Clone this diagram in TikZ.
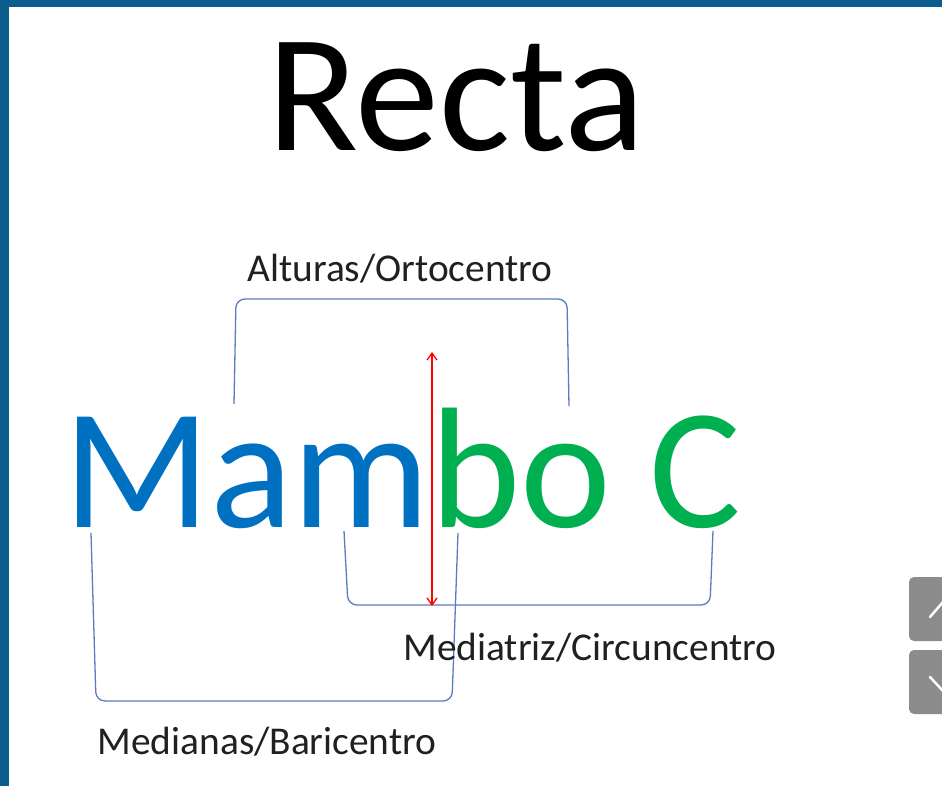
\documentclass[tikz,border=0pt]{standalone}
\usepackage{fontspec}
\setmainfont{Carlito}
\usetikzlibrary{arrows.meta}
\definecolor{frameblue}{HTML}{0B5D8E}
\definecolor{mamblue}{HTML}{0070C0}
\definecolor{bogreen}{HTML}{00B050}
\definecolor{brk}{HTML}{5B7DBF}
\definecolor{btn}{HTML}{8C8C8C}
\definecolor{lbl}{HTML}{202020}
\tikzset{
  brack/.style={draw=brk, line width=1.3pt, rounded corners=9pt},
  lab/.style={anchor=base, inner sep=0pt, text=lbl, font=\fontsize{39.4}{39.4}\selectfont},
  redarrow/.style={draw=red, line width=1.3pt, {Straight Barb[length=7pt,width=10pt]}-{Straight Barb[length=7pt,width=10pt]}},
  navbtn/.style={fill=btn, rounded corners=5pt}
}
\begin{document}
\begin{tikzpicture}[x=1pt,y=-1pt]
\useasboundingbox (0,0) rectangle (942,786);
\fill[frameblue] (0,0) rectangle (942,786);
\fill[white] (9,7) rectangle (942,786);
% title
\node[anchor=base, inner sep=0pt, font=\fontsize{168}{168}\selectfont] (title) at (456,151) {Recta};
% main word
\node[anchor=base west, inner sep=0pt, font=\fontsize{172}{172}\selectfont] (word) at (63,527) {\textcolor{mamblue}{Mam}\textcolor{bogreen}{bo C}};
% brackets
\draw[brack] (234,404) -- (236,299) -- (567,299) -- (569,406);
\draw[brack] (344,531) -- (348,605) -- (710,605) -- (713,531);
\draw[brack] (91,533) -- (96,701) -- (452,701) -- (458,533);
% red arrow
\coordinate (atop) at (432,352);
\coordinate (abot) at (432,606);
\draw[redarrow] (atop) -- (abot);
% labels
\node[lab] (alt) at (400,281) {Alturas/Ortocentro};
\node[lab] (med) at (590,660) {Mediatriz/Circuncentro};
\node[lab] (bar) at (267,754) {Medianas/Baricentro};
% nav buttons
\fill[navbtn] (909,577) rectangle (960,641);
\fill[navbtn] (909,650) rectangle (960,714);
\draw[white, line width=2.5pt, line cap=round] (930,617) -- (943,602);
\draw[white, line width=2.5pt, line cap=round] (930,677) -- (943,691);
\end{tikzpicture}
\end{document}
